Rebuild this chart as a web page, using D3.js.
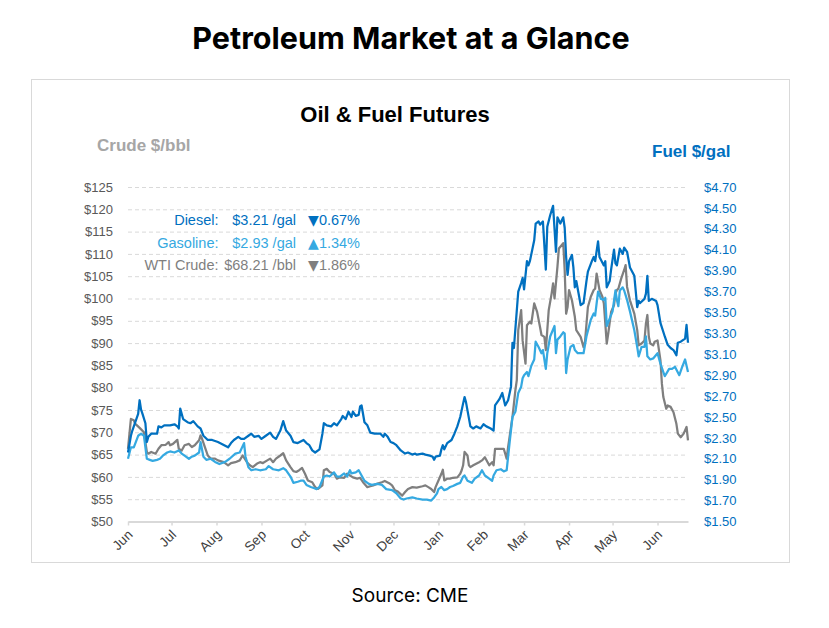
<!DOCTYPE html>
<html>
<head>
<meta charset="utf-8">
<script src="https://cdn.jsdelivr.net/npm/d3@7"></script>
<style>
    body { margin: 0; background: #fff; }
    svg { display: block; }
</style>
</head>
<body>
<div id="chart"></div>
<script>
// Diesel futures, $/gal
var dieselData = [
    ["2021-06-01",2.16],["2021-06-03",2.32],["2021-06-04",2.37],["2021-06-08",2.53],["2021-06-09",2.66],["2021-06-10",2.57],
    ["2021-06-11",2.53],["2021-06-13",2.44],["2021-06-14",2.26],["2021-06-15",2.31],["2021-06-17",2.34],["2021-06-20",2.34],
    ["2021-06-21",2.34],["2021-06-22",2.41],["2021-06-24",2.40],["2021-06-26",2.42],["2021-06-30",2.42],["2021-07-03",2.43],
    ["2021-07-05",2.41],["2021-07-06",2.39],["2021-07-07",2.58],["2021-07-09",2.48],["2021-07-12",2.45],["2021-07-14",2.44],
    ["2021-07-16",2.46],["2021-07-19",2.41],["2021-07-21",2.39],["2021-07-23",2.32],["2021-07-26",2.28],["2021-07-29",2.28],
    ["2021-08-02",2.26],["2021-08-05",2.24],["2021-08-09",2.21],["2021-08-11",2.25],["2021-08-13",2.28],["2021-08-16",2.31],
    ["2021-08-18",2.29],["2021-08-20",2.29],["2021-08-23",2.32],["2021-08-25",2.34],["2021-08-27",2.31],["2021-08-30",2.32],
    ["2021-09-01",2.29],["2021-09-04",2.32],["2021-09-07",2.35],["2021-09-09",2.31],["2021-09-11",2.29],["2021-09-14",2.37],
    ["2021-09-16",2.46],["2021-09-18",2.37],["2021-09-21",2.32],["2021-09-23",2.26],["2021-09-26",2.25],["2021-09-30",2.28],
    ["2021-10-02",2.25],["2021-10-04",2.23],["2021-10-06",2.18],["2021-10-08",2.16],["2021-10-11",2.19],["2021-10-13",2.34],
    ["2021-10-14",2.44],["2021-10-16",2.42],["2021-10-19",2.41],["2021-10-21",2.44],["2021-10-23",2.42],["2021-10-26",2.48],
    ["2021-10-27",2.51],["2021-10-29",2.48],["2021-10-31",2.55],["2021-11-02",2.50],["2021-11-03",2.55],["2021-11-05",2.51],
    ["2021-11-07",2.52],["2021-11-08",2.60],["2021-11-09",2.61],["2021-11-11",2.45],["2021-11-13",2.42],["2021-11-15",2.35],
    ["2021-11-18",2.34],["2021-11-22",2.34],["2021-11-24",2.31],["2021-11-25",2.34],["2021-11-27",2.31],["2021-11-29",2.26],
    ["2021-12-01",2.25],["2021-12-03",2.23],["2021-12-06",2.18],["2021-12-09",2.15],["2021-12-11",2.16],["2021-12-14",2.14],
    ["2021-12-16",2.15],["2021-12-17",2.14],["2021-12-21",2.15],["2021-12-23",2.14],["2021-12-26",2.13],["2021-12-28",2.12],
    ["2021-12-29",2.09],["2021-12-30",2.12],["2022-01-02",2.13],["2022-01-03",2.19],["2022-01-04",2.23],["2022-01-05",2.19],
    ["2022-01-07",2.25],["2022-01-10",2.28],["2022-01-12",2.34],["2022-01-14",2.41],["2022-01-16",2.50],["2022-01-18",2.63],
    ["2022-01-19",2.69],["2022-01-20",2.64],["2022-01-23",2.41],["2022-01-25",2.39],["2022-01-27",2.41],["2022-01-30",2.39],
    ["2022-02-01",2.43],["2022-02-03",2.41],["2022-02-06",2.39],["2022-02-08",2.37],["2022-02-09",2.61],["2022-02-12",2.67],
    ["2022-02-14",2.73],["2022-02-16",2.61],["2022-02-18",2.66],["2022-02-20",2.79],["2022-02-21",3.21],["2022-02-22",3.16],
    ["2022-02-25",3.70],["2022-02-27",3.78],["2022-02-28",3.83],["2022-03-01",3.72],["2022-03-03",3.99],["2022-03-04",3.95],
    ["2022-03-05",3.99],["2022-03-08",4.19],["2022-03-09",4.35],["2022-03-11",4.37],["2022-03-12",4.34],["2022-03-14",4.37],
    ["2022-03-16",3.91],["2022-03-17",4.32],["2022-03-19",4.43],["2022-03-21",4.52],["2022-03-23",4.08],["2022-03-24",4.41],
    ["2022-03-26",4.35],["2022-03-28",4.41],["2022-03-29",4.31],["2022-03-30",4.03],["2022-03-31",3.86],["2022-04-01",3.99],
    ["2022-04-03",4.05],["2022-04-04",3.93],["2022-04-05",3.74],["2022-04-06",3.80],["2022-04-08",3.65],["2022-04-09",3.57],
    ["2022-04-11",3.59],["2022-04-13",3.80],["2022-04-14",3.89],["2022-04-17",4.00],["2022-04-18",4.03],["2022-04-19",3.99],
    ["2022-04-21",4.18],["2022-04-22",4.03],["2022-04-25",3.95],["2022-04-26",3.99],["2022-04-27",3.74],["2022-04-29",3.80],
    ["2022-04-30",3.91],["2022-05-02",4.10],["2022-05-03",3.97],["2022-05-04",3.95],["2022-05-06",4.11],["2022-05-08",4.06],
    ["2022-05-09",4.12],["2022-05-11",4.08],["2022-05-13",3.93],["2022-05-16",3.85],["2022-05-18",3.55],["2022-05-19",3.61],
    ["2022-05-20",3.59],["2022-05-23",3.63],["2022-05-24",3.68],["2022-05-25",3.85],["2022-05-26",3.61],["2022-05-28",3.63],
    ["2022-05-31",3.61],["2022-06-01",3.57],["2022-06-03",3.40],["2022-06-06",3.27],["2022-06-08",3.19],["2022-06-10",3.16],
    ["2022-06-12",3.14],["2022-06-14",3.09],["2022-06-15",3.21],["2022-06-17",3.22],["2022-06-20",3.25],["2022-06-21",3.38],
    ["2022-06-22",3.21]
];

// Gasoline futures, $/gal
var gasolineData = [
    ["2021-06-01",2.10],["2021-06-03",2.21],["2021-06-05",2.21],["2021-06-08",2.32],["2021-06-10",2.34],["2021-06-12",2.32],
    ["2021-06-14",2.10],["2021-06-16",2.09],["2021-06-18",2.08],["2021-06-21",2.09],["2021-06-23",2.10],["2021-06-25",2.13],
    ["2021-06-28",2.16],["2021-06-30",2.17],["2021-07-03",2.16],["2021-07-06",2.18],["2021-07-08",2.15],["2021-07-10",2.13],
    ["2021-07-13",2.10],["2021-07-15",2.12],["2021-07-17",2.13],["2021-07-20",2.16],["2021-07-21",2.26],["2021-07-23",2.12],
    ["2021-07-25",2.09],["2021-07-28",2.10],["2021-07-31",2.07],["2021-08-03",2.05],["2021-08-07",2.07],["2021-08-10",2.10],
    ["2021-08-14",2.15],["2021-08-17",2.16],["2021-08-20",2.25],["2021-08-21",2.12],["2021-08-23",2.02],["2021-08-25",1.99],
    ["2021-08-28",2.00],["2021-08-31",1.99],["2021-09-04",2.00],["2021-09-06",2.03],["2021-09-09",2.00],["2021-09-13",1.99],
    ["2021-09-16",2.01],["2021-09-18",1.99],["2021-09-21",1.93],["2021-09-23",1.87],["2021-09-26",1.88],["2021-09-28",1.89],
    ["2021-09-30",1.89],["2021-10-02",1.85],["2021-10-05",1.83],["2021-10-07",1.82],["2021-10-09",1.81],["2021-10-11",1.83],
    ["2021-10-14",1.93],["2021-10-16",1.94],["2021-10-18",1.93],["2021-10-21",1.97],["2021-10-23",1.93],["2021-10-25",1.93],
    ["2021-10-28",1.96],["2021-10-30",1.93],["2021-11-01",1.99],["2021-11-02",1.96],["2021-11-05",1.97],["2021-11-07",1.99],
    ["2021-11-09",1.94],["2021-11-11",1.89],["2021-11-14",1.86],["2021-11-16",1.85],["2021-11-20",1.86],["2021-11-23",1.85],
    ["2021-11-26",1.81],["2021-11-30",1.80],["2021-12-03",1.77],["2021-12-06",1.72],["2021-12-08",1.71],["2021-12-10",1.72],
    ["2021-12-14",1.73],["2021-12-17",1.72],["2021-12-21",1.71],["2021-12-24",1.71],["2021-12-27",1.70],["2021-12-29",1.73],
    ["2021-12-31",1.77],["2022-01-01",1.81],["2022-01-03",1.83],["2022-01-05",1.80],["2022-01-07",1.81],["2022-01-09",1.83],
    ["2022-01-11",1.84],["2022-01-14",1.86],["2022-01-16",1.87],["2022-01-18",1.93],["2022-01-19",1.94],["2022-01-21",1.89],
    ["2022-01-24",1.87],["2022-01-26",1.91],["2022-01-29",1.94],["2022-01-31",1.99],["2022-02-02",1.94],["2022-02-05",1.91],
    ["2022-02-07",1.89],["2022-02-08",1.94],["2022-02-10",1.99],["2022-02-13",2.00],["2022-02-15",1.98],["2022-02-17",1.99],
    ["2022-02-19",2.25],["2022-02-21",2.50],["2022-02-23",2.55],["2022-02-25",2.73],["2022-02-27",2.79],["2022-02-28",2.87],
    ["2022-03-01",2.90],["2022-03-03",2.93],["2022-03-04",2.89],["2022-03-06",2.99],["2022-03-08",3.05],["2022-03-09",3.22],
    ["2022-03-11",3.17],["2022-03-13",3.11],["2022-03-14",3.14],["2022-03-16",2.96],["2022-03-17",3.11],["2022-03-19",3.27],
    ["2022-03-22",3.37],["2022-03-23",3.11],["2022-03-24",3.24],["2022-03-26",3.27],["2022-03-28",3.31],["2022-03-29",3.30],
    ["2022-03-30",2.92],["2022-03-31",3.05],["2022-04-02",3.17],["2022-04-04",3.19],["2022-04-05",3.14],["2022-04-07",3.11],
    ["2022-04-09",3.11],["2022-04-11",3.11],["2022-04-13",3.27],["2022-04-16",3.43],["2022-04-18",3.49],["2022-04-19",3.47],
    ["2022-04-21",3.70],["2022-04-23",3.63],["2022-04-25",3.62],["2022-04-26",3.64],["2022-04-27",3.37],["2022-04-29",3.44],
    ["2022-05-01",3.51],["2022-05-03",3.71],["2022-05-04",3.62],["2022-05-05",3.56],["2022-05-06",3.71],["2022-05-08",3.74],
    ["2022-05-09",3.71],["2022-05-11",3.62],["2022-05-13",3.51],["2022-05-16",3.33],["2022-05-18",3.17],["2022-05-19",3.08],
    ["2022-05-21",3.17],["2022-05-23",3.17],["2022-05-24",3.27],["2022-05-25",3.08],["2022-05-27",3.05],["2022-05-29",3.06],
    ["2022-06-01",3.11],["2022-06-03",3.01],["2022-06-05",2.93],["2022-06-06",2.89],["2022-06-09",2.96],["2022-06-11",2.96],
    ["2022-06-13",2.98],["2022-06-16",2.90],["2022-06-18",2.98],["2022-06-20",3.05],["2022-06-22",2.93]
];

// WTI crude futures, $/bbl
var crudeData = [
    ["2021-06-01",66.3],["2021-06-03",73.0],["2021-06-05",72.7],["2021-06-06",71.9],["2021-06-07",71.6],["2021-06-09",71.0],
    ["2021-06-12",70.0],["2021-06-14",65.6],["2021-06-15",65.2],["2021-06-17",65.6],["2021-06-20",65.2],["2021-06-22",66.3],
    ["2021-06-24",67.1],["2021-06-27",67.2],["2021-06-29",67.8],["2021-06-30",67.1],["2021-07-02",67.4],["2021-07-05",68.3],
    ["2021-07-06",66.3],["2021-07-08",65.9],["2021-07-10",67.1],["2021-07-13",67.4],["2021-07-15",66.7],["2021-07-17",67.1],
    ["2021-07-20",68.2],["2021-07-21",69.3],["2021-07-22",68.6],["2021-07-24",66.7],["2021-07-26",64.8],["2021-07-28",64.1],
    ["2021-07-31",64.1],["2021-08-02",63.7],["2021-08-06",63.3],["2021-08-09",62.6],["2021-08-11",63.1],["2021-08-14",63.3],
    ["2021-08-17",63.7],["2021-08-19",64.8],["2021-08-22",63.3],["2021-08-24",62.6],["2021-08-26",62.2],["2021-08-29",63.0],
    ["2021-08-31",63.3],["2021-09-02",63.1],["2021-09-05",63.7],["2021-09-07",64.1],["2021-09-09",63.3],["2021-09-11",64.1],
    ["2021-09-14",64.8],["2021-09-16",65.3],["2021-09-18",63.7],["2021-09-21",62.2],["2021-09-23",61.3],["2021-09-25",61.1],
    ["2021-09-27",61.5],["2021-09-29",62.0],["2021-10-01",60.7],["2021-10-03",59.2],["2021-10-06",58.8],["2021-10-08",57.7],
    ["2021-10-10",57.3],["2021-10-13",58.1],["2021-10-14",61.5],["2021-10-16",61.8],["2021-10-18",61.1],["2021-10-21",60.7],
    ["2021-10-23",59.6],["2021-10-25",59.9],["2021-10-28",59.8],["2021-10-30",60.7],["2021-11-01",60.3],["2021-11-03",59.9],
    ["2021-11-06",59.6],["2021-11-08",59.8],["2021-11-10",58.8],["2021-11-13",57.7],["2021-11-15",57.9],["2021-11-17",58.1],
    ["2021-11-20",58.5],["2021-11-23",58.8],["2021-11-25",59.1],["2021-11-28",58.6],["2021-11-30",58.1],["2021-12-02",57.0],
    ["2021-12-04",56.7],["2021-12-07",55.8],["2021-12-09",56.6],["2021-12-11",57.3],["2021-12-14",57.7],["2021-12-17",57.6],
    ["2021-12-21",57.9],["2021-12-23",58.1],["2021-12-25",57.7],["2021-12-27",57.3],["2021-12-29",56.6],["2021-12-30",57.7],
    ["2022-01-01",59.2],["2022-01-03",60.7],["2022-01-04",61.6],["2022-01-05",59.2],["2022-01-07",59.6],["2022-01-09",59.6],
    ["2022-01-11",59.8],["2022-01-14",59.9],["2022-01-16",60.7],["2022-01-17",61.5],["2022-01-18",62.6],["2022-01-19",65.6],
    ["2022-01-21",64.8],["2022-01-22",62.6],["2022-01-23",62.2],["2022-01-25",62.6],["2022-01-29",63.3],["2022-01-31",63.7],
    ["2022-02-02",64.4],["2022-02-05",62.6],["2022-02-07",63.3],["2022-02-08",62.6],["2022-02-09",66.3],["2022-02-11",66.3],
    ["2022-02-14",66.3],["2022-02-15",66.3],["2022-02-17",64.1],["2022-02-18",66.7],["2022-02-21",73.4],["2022-02-22",76.4],
    ["2022-02-23",79.4],["2022-02-24",81.7],["2022-02-25",92.9],["2022-02-27",97.4],["2022-02-28",90.6],["2022-03-02",85.4],
    ["2022-03-03",94.0],["2022-03-05",94.8],["2022-03-06",94.4],["2022-03-08",98.9],["2022-03-10",97.0],["2022-03-12",93.6],
    ["2022-03-13",91.8],["2022-03-15",91.4],["2022-03-16",88.4],["2022-03-18",97.4],["2022-03-20",101.1],["2022-03-21",103.4],
    ["2022-03-22",100.0],["2022-03-24",107.1],["2022-03-25",111.2],["2022-03-28",112.4],["2022-03-29",106.4],["2022-03-30",96.6],
    ["2022-03-31",98.1],["2022-04-01",101.9],["2022-04-03",99.6],["2022-04-05",95.9],["2022-04-06",92.9],["2022-04-09",91.4],
    ["2022-04-11",89.1],["2022-04-12",90.3],["2022-04-14",98.1],["2022-04-16",100.4],["2022-04-18",101.9],["2022-04-19",102.2],
    ["2022-04-20",105.6],["2022-04-22",101.9],["2022-04-24",100.4],["2022-04-25",98.9],["2022-04-27",89.9],["2022-04-28",92.1],
    ["2022-04-30",97.0],["2022-05-02",98.5],["2022-05-03",101.1],["2022-05-04",101.9],["2022-05-05",102.2],["2022-05-07",104.5],
    ["2022-05-09",106.4],["2022-05-10",107.5],["2022-05-11",102.6],["2022-05-13",99.6],["2022-05-16",96.6],["2022-05-18",92.9],
    ["2022-05-19",89.5],["2022-05-21",89.9],["2022-05-23",90.6],["2022-05-24",94.4],["2022-05-25",96.3],["2022-05-26",91.4],
    ["2022-05-27",89.9],["2022-05-29",89.5],["2022-05-30",90.3],["2022-06-01",90.6],["2022-06-03",86.2],["2022-06-04",80.9],
    ["2022-06-05",77.9],["2022-06-07",75.3],["2022-06-08",76.0],["2022-06-10",75.7],["2022-06-12",74.5],["2022-06-14",71.9],
    ["2022-06-15",69.7],["2022-06-17",68.9],["2022-06-19",69.7],["2022-06-21",71.2],["2022-06-22",68.2]
];

// Axis ticks
var crudeTicks = [50, 55, 60, 65, 70, 75, 80, 85, 90, 95, 100, 105, 110, 115, 120, 125];
var fuelTicks = [1.5, 1.7, 1.9, 2.1, 2.3, 2.5, 2.7, 2.9, 3.1, 3.3, 3.5, 3.7, 3.9, 4.1, 4.3, 4.5, 4.7];

// Latest quotes shown in the box
var quoteLabels = ["Diesel:", "Gasoline:", "WTI Crude:"];
var quotePrices = ["$3.21 /gal", "$2.93 /gal", "$68.21 /bbl"];
var quoteArrows = ["\u25BC", "\u25B2", "\u25BC"];
var quoteChanges = ["0.67%", "1.34%", "1.86%"];

var width = 829;
var height = 628;
var margin = ({ top: 187, right: 141, bottom: 106.5, left: 128 });

var dieselColor = "#0070C0",
    gasolineColor = "#35A9E1",
    crudeColor = "#7F7F7F";
var quoteColors = [dieselColor, gasolineColor, crudeColor];

var parseDate = d3.timeParse("%Y-%m-%d");
var toPoints = arr => arr.map(d => ({ date: parseDate(d[0]), value: d[1] }));
var diesel = toPoints(dieselData),
    gasoline = toPoints(gasolineData),
    crude = toPoints(crudeData);

const svg = d3.select("#chart")
    .append("svg")
    .attr("width", width)
    .attr("height", height)
    .style("font-family", "'Liberation Sans', Arial, sans-serif");

// Page title and source line
svg.append("text")
    .attr("x", 411)
    .attr("y", 49)
    .attr("text-anchor", "middle")
    .style("font-family", "Inter, sans-serif")
    .style("font-weight", 700)
    .style("font-size", "30.5px")
    .attr("fill", "#000")
    .text("Petroleum Market at a Glance");

svg.append("text")
    .attr("x", 410)
    .attr("y", 602)
    .attr("text-anchor", "middle")
    .style("font-family", "Inter, sans-serif")
    .style("font-size", "19px")
    .attr("fill", "#000")
    .text("Source: CME");

// Chart frame
svg.append("rect")
    .attr("x", 31.5)
    .attr("y", 79.5)
    .attr("width", 758)
    .attr("height", 483)
    .attr("fill", "#fff")
    .attr("stroke", "#d9d9d9")
    .attr("stroke-width", 1);

svg.append("text")
    .attr("x", 395)
    .attr("y", 122)
    .attr("text-anchor", "middle")
    .style("font-weight", 700)
    .style("font-size", "22px")
    .attr("fill", "#000")
    .text("Oil & Fuel Futures");

svg.append("text")
    .attr("x", 97)
    .attr("y", 151)
    .style("font-weight", 700)
    .style("font-size", "17px")
    .attr("fill", "#a6a6a6")
    .text("Crude $/bbl");

svg.append("text")
    .attr("x", 652)
    .attr("y", 157)
    .style("font-weight", 700)
    .style("font-size", "17px")
    .attr("fill", dieselColor)
    .text("Fuel $/gal");

// Scales
var x = d3.scaleTime()
    .domain(d3.extent(diesel, d => d.date))
    .range([margin.left, width - margin.right]);
var yCrude = d3.scaleLinear()
    .domain([50, 125])
    .range([height - margin.bottom, margin.top]);
var yFuel = d3.scaleLinear()
    .domain([1.5, 4.7])
    .range([height - margin.bottom, margin.top]);

// Dashed grid lines
svg.append("g")
    .attr("transform", `translate(${margin.left},0)`)
    .call(d3.axisRight(yCrude).tickValues(crudeTicks.slice(1)).tickSize(width - margin.left - margin.right).tickFormat(""))
    .call(g => g.select(".domain").remove())
    .call(g => g.selectAll(".tick line")
        .attr("stroke", "#d9d9d9")
        .attr("stroke-dasharray", "4,3"));

// Left axis (crude)
svg.append("g")
    .attr("transform", `translate(${margin.left - 15},0)`)
    .call(d3.axisLeft(yCrude).tickValues(crudeTicks).tickSize(0).tickPadding(0).tickFormat(d => "$" + d))
    .call(g => g.select(".domain").remove())
    .call(g => g.selectAll(".tick text")
        .attr("fill", "#595959")
        .style("font-size", "13px")
        .style("font-family", "'Liberation Sans', Arial, sans-serif"));

// Right axis (fuel)
svg.append("g")
    .attr("transform", `translate(${width - margin.right + 16},0)`)
    .call(d3.axisRight(yFuel).tickValues(fuelTicks).tickSize(0).tickPadding(0).tickFormat(d3.format("$.2f")))
    .call(g => g.select(".domain").remove())
    .call(g => g.selectAll(".tick text")
        .attr("fill", dieselColor)
        .style("font-size", "13px")
        .style("font-family", "'Liberation Sans', Arial, sans-serif"));

// Bottom axis with rotated month labels
svg.append("g")
    .attr("transform", `translate(0,${height - margin.bottom})`)
    .call(d3.axisBottom(x).ticks(d3.timeMonth.every(1)).tickFormat(d3.timeFormat("%b")).tickSize(4).tickSizeOuter(0))
    .call(g => g.select(".domain")
        .attr("stroke", "#d9d9d9")
        .attr("stroke-width", 2))
    .call(g => g.selectAll(".tick line")
        .attr("stroke", "#d9d9d9")
        .attr("stroke-width", 1.5))
    .call(g => g.selectAll(".tick text")
        .attr("fill", "#404040")
        .style("font-size", "13.5px")
        .style("font-family", "'Liberation Sans', Arial, sans-serif")
        .attr("text-anchor", "end")
        .attr("dy", null)
        .attr("y", 0)
        .attr("transform", "translate(5,14) rotate(-45)"));

// Price lines
var crudeLine = d3.line()
    .x(d => x(d.date))
    .y(d => yCrude(d.value));
var fuelLine = d3.line()
    .x(d => x(d.date))
    .y(d => yFuel(d.value));

svg.append("path")
    .datum(crude)
    .attr("fill", "none")
    .attr("stroke", crudeColor)
    .attr("stroke-width", 2.25)
    .attr("stroke-linejoin", "round")
    .attr("d", crudeLine);

svg.append("path")
    .datum(gasoline)
    .attr("fill", "none")
    .attr("stroke", gasolineColor)
    .attr("stroke-width", 2.25)
    .attr("stroke-linejoin", "round")
    .attr("d", fuelLine);

svg.append("path")
    .datum(diesel)
    .attr("fill", "none")
    .attr("stroke", dieselColor)
    .attr("stroke-width", 2.25)
    .attr("stroke-linejoin", "round")
    .attr("d", fuelLine);

// Quote box: three right-aligned columns
var quotes = svg.append("g")
    .style("font-size", "14.5px");
quoteLabels.forEach(function (label, i) {
    var yPos = 225 + i * 22.5;
    var row = quotes.append("g").attr("fill", quoteColors[i]);
    row.append("text").attr("x", 218.5).attr("y", yPos).attr("text-anchor", "end").text(label);
    row.append("text").attr("x", 296).attr("y", yPos).attr("text-anchor", "end").text(quotePrices[i]);
    var change = row.append("text").attr("x", 360).attr("y", yPos).attr("text-anchor", "end");
    change.append("tspan")
        .style("font-family", "'DejaVu Sans', sans-serif")
        .style("font-size", "14px")
        .text(quoteArrows[i]);
    change.append("tspan").text(quoteChanges[i]);
});
</script>
</body>
</html>
